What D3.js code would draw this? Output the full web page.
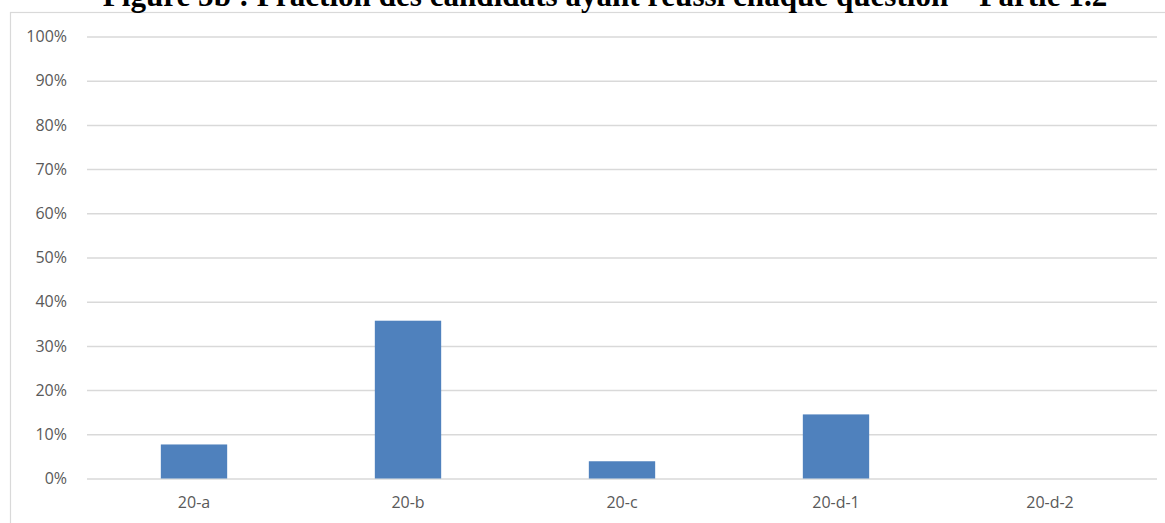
<!DOCTYPE html>
<meta charset="utf-8">
<style>
  body { margin: 0; background: #fff; }
  .bar { fill: #4f81bd; }
  .tick text { font: 16px "Open Sans", sans-serif; fill: #595959; }
</style>
<body>
<script src="https://d3js.org/d3.v7.min.js"></script>
<script>
var title = "Figure 5b : Fraction des candidats ayant réussi chaque question – Partie 1.2";
var categories = ["20-a", "20-b", "20-c", "20-d-1", "20-d-2"];
var values = [0.077, 0.357, 0.039, 0.145, 0];
var yTicks = [0, 0.1, 0.2, 0.3, 0.4, 0.5, 0.6, 0.7, 0.8, 0.9, 1];

var W = 1165, H = 523;
var margin = {top: 36.5, right: 8, bottom: 44.5, left: 87},
    width = W - margin.left - margin.right,
    height = H - margin.top - margin.bottom;

var svg = d3.select("body").append("svg")
    .attr("width", W)
    .attr("height", H);

// chart frame
svg.append("rect")
    .attr("x", 10.5).attr("y", 12.5)
    .attr("width", W).attr("height", H)
    .attr("fill", "none")
    .attr("stroke", "#d9d9d9")
    .attr("stroke-width", 1.2);

// title, its top is cropped in the reference
var t = svg.append("text")
    .attr("x", 605)
    .attr("y", 6)
    .attr("text-anchor", "middle")
    .style("font", "bold 24px 'Liberation Serif', 'Times New Roman', serif")
    .style("fill", "#000")
    .text(title);
var len = t.node().getComputedTextLength();
t.style("font-size", (24 * 1005 / len) + "px");

var g = svg.append("g")
    .attr("transform", "translate(" + margin.left + "," + margin.top + ")");

var x = d3.scaleBand()
    .domain(categories)
    .range([0, width])
    .paddingInner(0.69)
    .paddingOuter(0.345);

var y = d3.scaleLinear()
    .domain([0, 1])
    .range([height, 0]);

// gridlines + y labels
var yAxis = g.append("g")
    .call(d3.axisLeft(y)
      .tickValues(yTicks)
      .tickSize(-width)
      .tickPadding(20)
      .tickFormat(d3.format(".0%")));
yAxis.select(".domain").remove();
yAxis.selectAll(".tick line")
    .attr("stroke", "#d9d9d9")
    .attr("stroke-width", 1.5);

// bars
g.selectAll(".bar")
    .data(values)
    .enter().append("rect")
    .attr("class", "bar")
    .attr("x", function(d, i) { return x(categories[i]); })
    .attr("width", x.bandwidth())
    .attr("y", function(d) { return y(d); })
    .attr("height", function(d) { return height - y(d); });

// x labels
var xAxis = g.append("g")
    .attr("transform", "translate(0," + height + ")")
    .call(d3.axisBottom(x).tickSize(0).tickPadding(18));
xAxis.select(".domain").remove();
</script>
</body>
